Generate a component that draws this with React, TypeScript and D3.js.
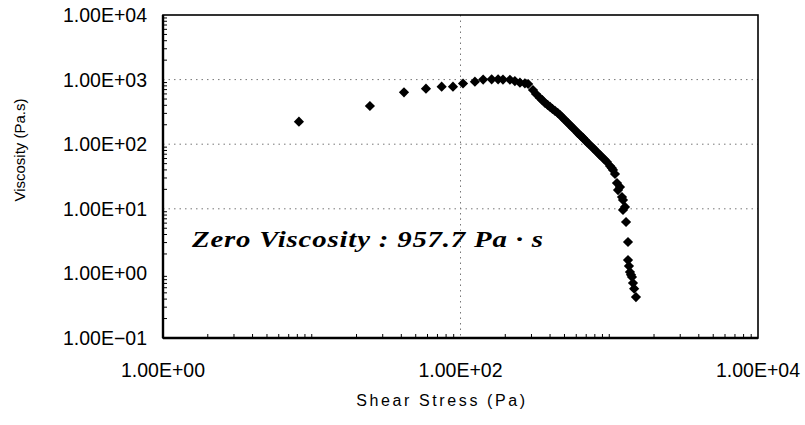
import React from "react";
import * as d3 from "d3";

// shear stress (Pa) / viscosity (Pa.s)
const shearStress = [
  8.2, 24.6, 41.7, 58.6, 74.7, 89, 104, 125, 142, 162, 179, 193, 215, 232, 251, 271, 285,
  307, 322, 342, 355, 370, 385, 400, 415, 432, 450, 467, 485, 504, 525, 545, 567, 589, 612,
  635, 650, 667, 690, 708, 735, 766, 795, 827, 860, 894, 930, 966, 1012, 1040, 1060, 1093,
  1127, 1145, 1181, 1218, 1237, 1276, 1237, 1297, 1337, 1337, 1357, 1378, 1400, 1422, 1444,
  1470, 1512,
];
const viscosity = [
  223, 390, 636, 724, 776, 776, 870, 930, 1000, 1010, 1010, 1000, 995, 950, 895, 877, 855,
  690, 598, 519, 480, 434, 405, 377, 352, 327, 305, 283, 258, 237, 215, 198, 180, 166, 150,
  139, 131, 125, 115, 108, 99, 90.5, 83, 75.7, 69, 63.4, 58, 53, 46, 43, 40, 34.6,
  25, 19.5, 21.7, 15.2, 13.7, 10.7, 9.6, 6.25, 3.06, 1.61, 1.3, 1.05, 0.95, 0.88, 0.71,
  0.58, 0.43,
];

const yTicks = [0.1, 1, 10, 100, 1000, 10000];
const yTickLabels = ["1.00E\u221201", "1.00E+00", "1.00E+01", "1.00E+02", "1.00E+03", "1.00E+04"];
const xTicks = [1, 100, 10000];
const xTickLabels = ["1.00E+00", "1.00E+02", "1.00E+04"];

const note = "Zero Viscosity : 957.7 Pa \u00b7 s";

const W = 805;
const H = 425;
const left = 163, right = 758, top = 15, bottom = 338;

export default function App() {
  const x = d3.scaleLog().domain([1, 1e4]).range([left, right]);
  const y = d3.scaleLog().domain([0.1, 1e4]).range([bottom, top]);

  const yMinor = y.ticks(45).filter((v) => !yTicks.includes(v));
  const xMinor = x.ticks(40).filter((v) => !xTicks.includes(v));

  const diamond = d3.symbol().type(d3.symbolSquare).size(52)();

  const sans = "'Liberation Sans', Arial, sans-serif";
  const sx = 1.2; // the note's font is drawn a little wide

  return (
    <div style={{ position: "fixed", left: 0, top: 0, background: "#fff" }}>
      <svg width={W} height={H} style={{ display: "block" }}>
        <rect width={W} height={H} fill="#fff" />

        {/* dotted gridlines */}
        <g stroke="#777" strokeWidth={1} strokeDasharray="1.5,4">
          {[10, 100, 1000].map((v) => (
            <line key={"gy" + v} x1={left} x2={right} y1={y(v)} y2={y(v)} />
          ))}
          <line x1={x(100)} x2={x(100)} y1={top} y2={bottom} />
        </g>

        {/* minor ticks */}
        <g stroke="#000" strokeWidth={1}>
          {yMinor.map((v, i) => (
            <line key={"ym" + i} x1={left} x2={left + 4} y1={y(v)} y2={y(v)} />
          ))}
          {xMinor.map((v, i) => (
            <line key={"xm" + i} x1={x(v)} x2={x(v)} y1={bottom} y2={bottom - 4} />
          ))}
        </g>

        {/* frame */}
        <rect x={left} y={top} width={right - left} height={bottom - top}
          fill="none" stroke="#000" strokeWidth={1.6} />
        <line x1={left} x2={left} y1={top} y2={bottom} stroke="#000" strokeWidth={2.4} />
        <line x1={left} x2={right} y1={bottom} y2={bottom} stroke="#000" strokeWidth={2.4} />

        {/* points */}
        <g fill="#000">
          {shearStress.map((s, i) => (
            <path key={"p" + i} d={diamond ?? ""}
              transform={`translate(${x(s)},${y(viscosity[i])}) rotate(45)`} />
          ))}
        </g>

        {/* tick labels */}
        <g fontFamily={sans} fontSize={19.5} fill="#000">
          {yTicks.map((v, i) => (
            <text key={"yl" + v} x={147} y={y(v)} dy="0.36em" textAnchor="end">
              {yTickLabels[i]}
            </text>
          ))}
          {xTicks.map((v, i) => (
            <text key={"xl" + v} x={x(v)} y={377} textAnchor="middle">
              {xTickLabels[i]}
            </text>
          ))}
        </g>

        {/* axis titles */}
        <text x={442} y={406} textAnchor="middle" fontFamily={sans} fontSize={16}
          letterSpacing={2.6}>
          Shear Stress (Pa)
        </text>
        <text transform="translate(25,150) rotate(-90)" textAnchor="middle"
          fontFamily={sans} fontSize={15}>
          Viscosity (Pa.s)
        </text>

        {/* annotation */}
        <g transform={`scale(${sx},1)`}>
          <text x={192 / sx} y={247} fontFamily="'Liberation Serif', 'Times New Roman', serif"
            fontStyle="italic" fontWeight="bold" fontSize={24}
            textLength={351 / sx} lengthAdjust="spacing">
            {note}
          </text>
        </g>
      </svg>
    </div>
  );
}
